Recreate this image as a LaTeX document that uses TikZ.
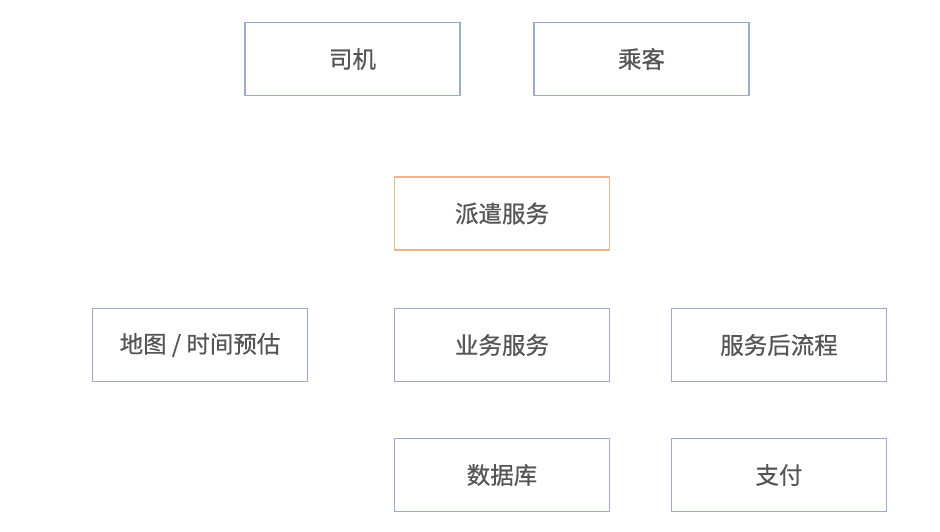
\documentclass[tikz,border=0pt]{standalone}
\usepackage{fontspec}
\newfontfamily\cjk[BoldFont={Noto Sans CJK SC},BoldFeatures={FakeBold=0.6}]{Noto Sans CJK SC}
\definecolor{boxblue}{HTML}{9AAAD0}
\definecolor{boxorange}{HTML}{E9B48E}
\definecolor{txt}{HTML}{555555}
\begin{document}
\begin{tikzpicture}[x=1pt,y=-1pt,
  box/.style={draw=boxblue,line width=1.5pt,minimum width=215pt,minimum height=73pt,inner sep=0pt,
    font=\cjk\bfseries\fontsize{23.5}{27}\selectfont,text=txt,anchor=center},
  obox/.style={box,draw=boxorange}]
\useasboundingbox[fill=white] (0,0) rectangle (940,531);
\node[box] (driver) at (352.5,59) {司机};
\node[box] (passenger) at (641.5,59) {乘客};
\node[obox] (dispatch) at (502,213.5) {派遣服务};
\node[box] (map) at (200,345) {地图 / 时间预估};
\node[box] (biz) at (502,345) {业务服务};
\node[box] (post) at (779,345) {服务后流程};
\node[box] (db) at (502,475) {数据库};
\node[box] (pay) at (779,475) {支付};
\end{tikzpicture}
\end{document}
